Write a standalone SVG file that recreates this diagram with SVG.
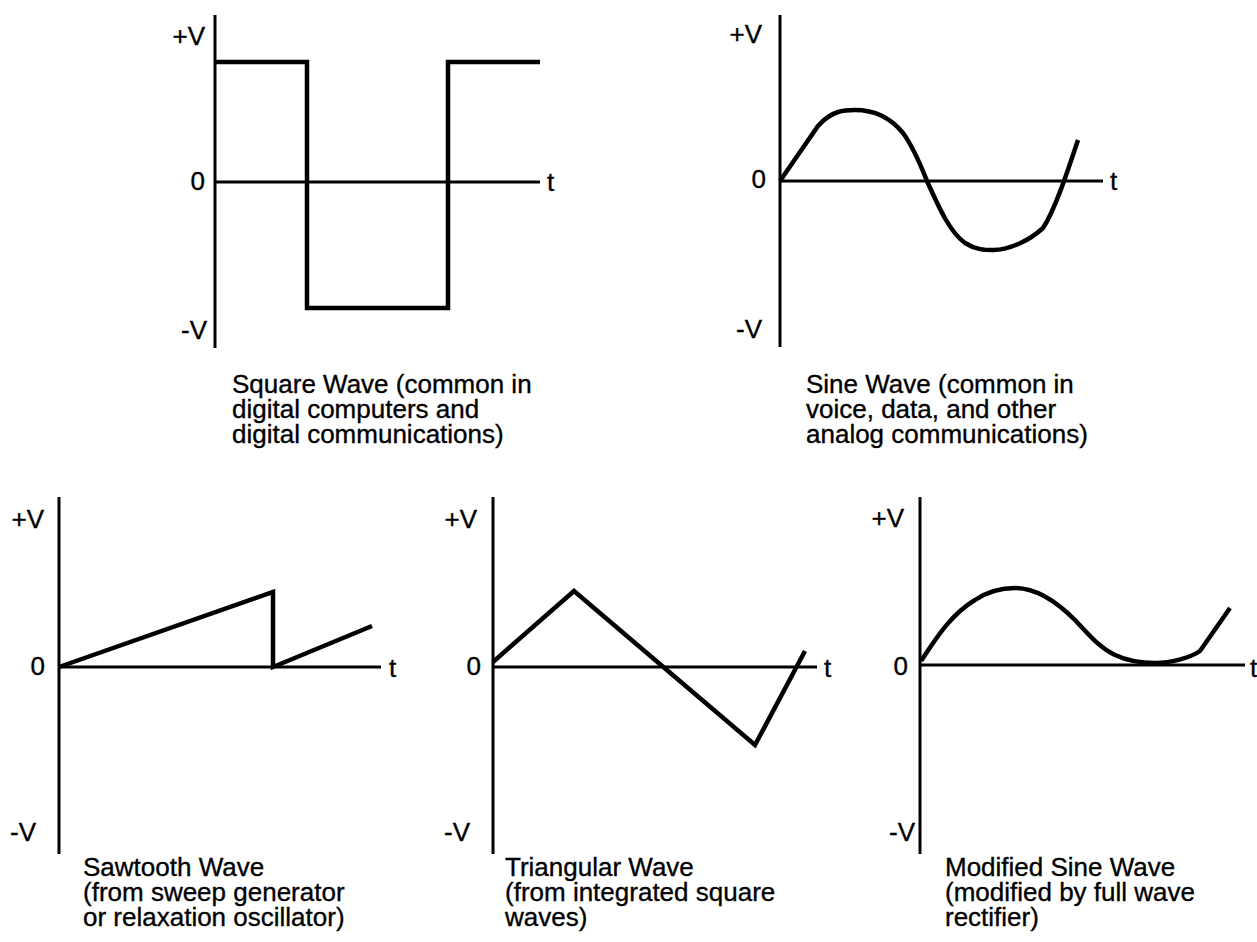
<svg xmlns="http://www.w3.org/2000/svg" width="1257" height="942" viewBox="0 0 1257 942">
<style>
.ax{stroke:#000;stroke-width:3;fill:none}
.wv{stroke:#000;stroke-width:4.5;fill:none;stroke-linejoin:miter;stroke-linecap:butt}
text{font-family:"Liberation Sans",Arial,sans-serif;font-size:26px;fill:#000;stroke:#000;stroke-width:0.35}
.e{text-anchor:end}
</style>
<rect width="1257" height="942" fill="#fff"/>
<g id="square">
<line class="ax" x1="215" y1="15" x2="215" y2="348"/>
<line class="ax" x1="215" y1="182" x2="540" y2="182"/>
<polyline class="wv" points="215,62 307,62 307,308 448,308 448,62 540,62"/>
<text class="e" x="205" y="45">+V</text>
<text class="e" x="205" y="190">0</text>
<text x="547" y="191">t</text>
<text class="e" x="207" y="339">-V</text>
<text x="232" y="393">Square Wave (common in</text>
<text x="232" y="418">digital computers and</text>
<text x="232" y="443">digital communications)</text>
</g>
<g id="sine">
<line class="ax" x1="780" y1="15" x2="780" y2="347"/>
<line class="ax" x1="780" y1="181" x2="1103" y2="181"/>
<path class="wv" d="M780,181 L818,126 C832,110 845,110 855,110 C875,110 890,117 903,133 C914,148 921,166 927,181 C940,210 950,232 965,243 C976,250 985,250 993,250 C1010,250 1030,240 1043,228 C1055,210 1068,170 1078,140"/>
<text class="e" x="762" y="43">+V</text>
<text class="e" x="766" y="188">0</text>
<text x="1110" y="190">t</text>
<text class="e" x="762" y="338">-V</text>
<text x="806" y="393">Sine Wave (common in</text>
<text x="806" y="418">voice, data, and other</text>
<text x="806" y="443">analog communications)</text>
</g>
<g id="sawtooth">
<line class="ax" x1="59" y1="497" x2="59" y2="854"/>
<line class="ax" x1="59" y1="667" x2="381" y2="667"/>
<polyline class="wv" points="59,667 273,592 273,667 372,626"/>
<text class="e" x="44" y="528">+V</text>
<text class="e" x="45" y="675">0</text>
<text x="389" y="677">t</text>
<text class="e" x="36" y="841">-V</text>
<text x="83" y="876">Sawtooth Wave</text>
<text x="83" y="901">(from sweep generator</text>
<text x="83" y="926">or relaxation oscillator)</text>
</g>
<g id="triangular">
<line class="ax" x1="493" y1="497" x2="493" y2="854"/>
<line class="ax" x1="493" y1="667" x2="817" y2="667"/>
<polyline class="wv" points="493,662 574,591 755,745 805,651"/>
<text class="e" x="477" y="528">+V</text>
<text class="e" x="481" y="675">0</text>
<text x="824" y="677">t</text>
<text class="e" x="470" y="841">-V</text>
<text x="505" y="876">Triangular Wave</text>
<text x="505" y="901">(from integrated square</text>
<text x="505" y="926">waves)</text>
</g>
<g id="modified-sine">
<line class="ax" x1="920" y1="497" x2="920" y2="854"/>
<line class="ax" x1="920" y1="665" x2="1245" y2="665"/>
<path class="wv" d="M921,661 C935,640 950,615 975,600 C990,590 1003,588 1015,588 C1035,588 1055,600 1075,620 C1090,636 1100,648 1115,655 C1130,662 1145,663 1155,663 C1170,663 1190,658 1200,651 L1230,608"/>
<text class="e" x="904" y="527">+V</text>
<text class="e" x="908" y="675">0</text>
<text x="1250" y="677">t</text>
<text class="e" x="915" y="841">-V</text>
<text x="945" y="876">Modified Sine Wave</text>
<text x="945" y="901">(modified by full wave</text>
<text x="945" y="926">rectifier)</text>
</g>
<g id="connectors"></g>
</svg>
